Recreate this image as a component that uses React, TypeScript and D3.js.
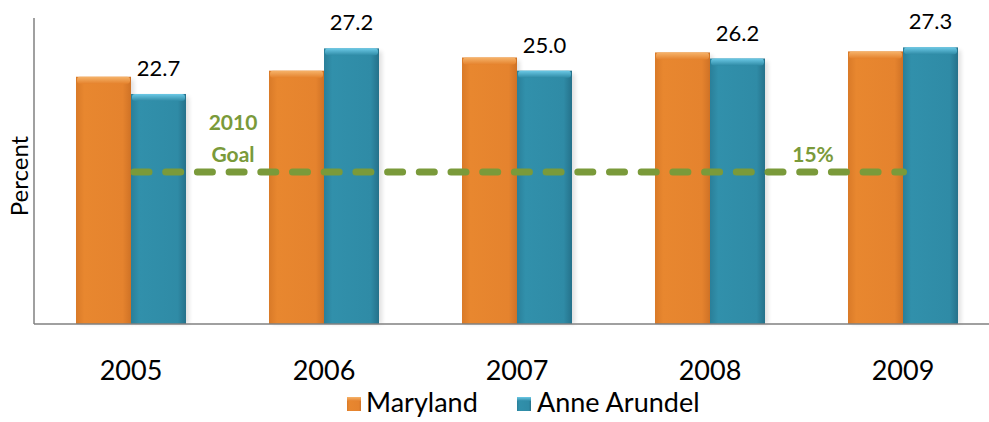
import React from "react";
import * as d3 from "d3";

const years = ["2005", "2006", "2007", "2008", "2009"];
const maryland = [24.4, 25.0, 26.3, 26.8, 26.9];
const anneArundel = [22.7, 27.2, 25.0, 26.2, 27.3];
const anneLabels = ["22.7", "27.2", "25.0", "26.2", "27.3"];
const goalValue = 15;
const seriesNames = ["Maryland", "Anne Arundel"];

const W = 989;
const H = 422;
const FONT = "Lato, 'Open Sans', 'Liberation Sans', sans-serif";

export default function App() {
  const x = d3.scaleBand<string>().domain(years).range([34.5, 999.5]).paddingInner(0).paddingOuter(0);
  const y = d3.scaleLinear().domain([0, 30]).range([324, 20]);
  const barW = 55;
  const orange = "#e5832e";
  const blue = "#2f8ba6";
  const green = "#7a9a3a";

  const cx = (yr: string) => (x(yr) as number) + x.bandwidth() / 2;

  const goalY = y(goalValue);
  const goalX1 = cx(years[0]);
  const goalX2 = cx(years[years.length - 1]);

  const bar = (xl: number, v: number, kind: "o" | "b", key: string) => {
    const top = y(v);
    const h = y(0) - top;
    return (
      <g key={key}>
        <rect x={xl + 3} y={top + 3} width={barW} height={h - 3} fill="#000" opacity={0.12} filter="url(#blur)" />
        <rect x={xl} y={top} width={barW} height={h} fill={`url(#grad-${kind})`} />
        <rect x={xl + 1} y={top} width={barW - 2} height={7} rx={3} fill={`url(#top-${kind})`} />
      </g>
    );
  };

  return (
    <svg width={W} height={H} style={{ position: "absolute", left: 0, top: 0, background: "#fff" }}>
      <defs>
        <filter id="blur" x="-20%" y="-20%" width="140%" height="140%">
          <feGaussianBlur stdDeviation="2" />
        </filter>
        <linearGradient id="grad-o" x1="0" x2="1" y1="0" y2="0">
          <stop offset="0" stopColor="#d97a28" />
          <stop offset="0.15" stopColor="#e8872f" />
          <stop offset="0.85" stopColor="#e5832e" />
          <stop offset="1" stopColor="#cf7226" />
        </linearGradient>
        <linearGradient id="grad-b" x1="0" x2="1" y1="0" y2="0">
          <stop offset="0" stopColor="#2a7f99" />
          <stop offset="0.15" stopColor="#3190ab" />
          <stop offset="0.85" stopColor="#2f8ba6" />
          <stop offset="1" stopColor="#25718a" />
        </linearGradient>
        <linearGradient id="top-o" x1="0" x2="0" y1="0" y2="1">
          <stop offset="0" stopColor="#f6b36a" />
          <stop offset="1" stopColor={orange} />
        </linearGradient>
        <linearGradient id="top-b" x1="0" x2="0" y1="0" y2="1">
          <stop offset="0" stopColor="#6cc9e6" />
          <stop offset="1" stopColor={blue} />
        </linearGradient>
      </defs>

      {years.map((yr, i) => {
        const c = cx(yr);
        return (
          <g key={yr}>
            {bar(c - barW, maryland[i], "o", "o" + yr)}
            {bar(c, anneArundel[i], "b", "b" + yr)}
            <text x={c + barW / 2} y={y(anneArundel[i]) - 18} textAnchor="middle" fontFamily={FONT} fontSize={22} fill="#000">
              {anneLabels[i]}
            </text>
            <text x={c} y={380} textAnchor="middle" fontFamily={FONT} fontSize={27} fill="#000">
              {yr}
            </text>
          </g>
        );
      })}

      <line x1={34} x2={34} y1={18} y2={324} stroke="#808080" strokeWidth={1.5} />
      <line x1={34} x2={989} y1={324} y2={324} stroke="#808080" strokeWidth={1.5} />

      <line
        x1={goalX1 + 3}
        x2={goalX2 + 0.5}
        y1={goalY}
        y2={goalY}
        stroke={green}
        strokeWidth={7}
        strokeLinecap="round"
        strokeDasharray="15 16.7"
      />
      <text x={233} y={130} textAnchor="middle" fontFamily={FONT} fontWeight="bold" fontSize={21} fill={green}>
        2010
      </text>
      <text x={233} y={162} textAnchor="middle" fontFamily={FONT} fontWeight="bold" fontSize={21} fill={green}>
        Goal
      </text>
      <text x={813} y={162} textAnchor="middle" fontFamily={FONT} fontWeight="bold" fontSize={21} fill={green}>
        15%
      </text>

      <text
        transform={`translate(28,176) rotate(-90)`}
        textAnchor="middle"
        fontFamily={FONT}
        fontSize={24}
        fill="#000"
      >
        Percent
      </text>

      <g>
        <rect x={347} y={397} width={14} height={14} fill="url(#grad-o)" />
        <rect x={347} y={397} width={14} height={4} fill="url(#top-o)" />
        <text x={366} y={412} fontFamily={FONT} fontSize={27} fill="#000">
          {seriesNames[0]}
        </text>
        <rect x={517} y={397} width={14} height={14} fill="url(#grad-b)" />
        <rect x={517} y={397} width={14} height={4} fill="url(#top-b)" />
        <text x={537} y={412} fontFamily={FONT} fontSize={27} fill="#000">
          {seriesNames[1]}
        </text>
      </g>
    </svg>
  );
}
